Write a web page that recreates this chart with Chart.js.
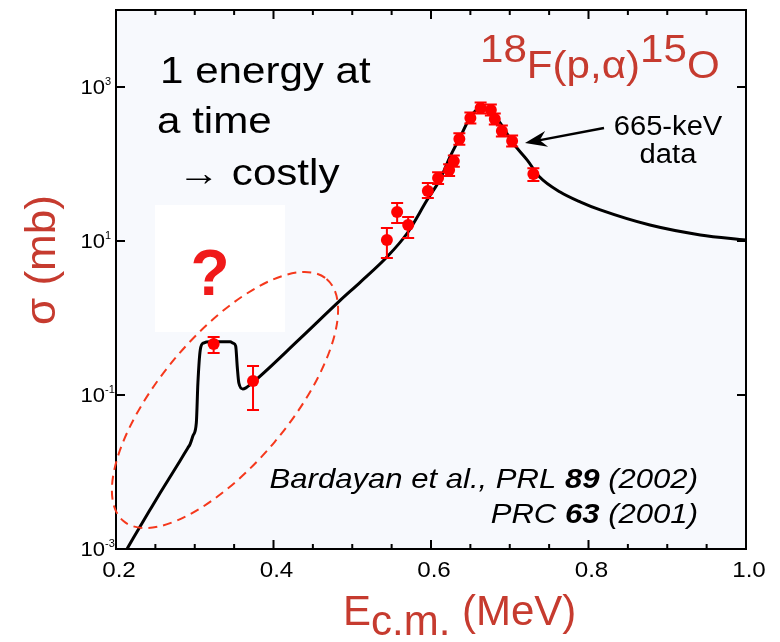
<!DOCTYPE html>
<html>
<head>
<meta charset="utf-8">
<script src="https://cdn.jsdelivr.net/npm/chart.js@4.4.1/dist/chart.umd.min.js"></script>
<style>
  html, body { margin: 0; padding: 0; background: #fff; }
  #wrap { width: 780px; height: 642px; }
</style>
</head>
<body>
<div id="wrap"><canvas id="c" width="780" height="642"></canvas></div>
<script>
// theory curve (E in MeV, sigma in mb)
const curveE = [0.214, 0.222, 0.243, 0.256, 0.281, 0.291, 0.294, 0.298, 0.302, 0.304, 0.307, 0.311, 0.320,
  0.345, 0.349, 0.352, 0.354, 0.356, 0.361, 0.365, 0.370, 0.434, 0.484, 0.510, 0.544, 0.570,
  0.595, 0.611, 0.624, 0.637, 0.650, 0.662, 0.675, 0.688, 0.704, 0.722, 0.738, 0.764, 0.790, 0.815,
  0.878, 0.942, 1.0];
const curveSigma = [0.0010, 0.00139, 0.0032, 0.00533, 0.0138, 0.0204, 0.0229, 0.030, 0.0433, 0.143, 0.384, 0.473, 0.49,
  0.49, 0.47, 0.43, 0.231, 0.143, 0.120, 0.124, 0.135, 0.544, 1.67, 2.91, 6.19, 12.7,
  34.0, 61.9, 123, 224, 407, 530, 490, 340, 188, 113, 67.8, 43.3, 32.0, 25.3,
  16.1, 12.0, 10.3];

// measured points with error bar ends
const dataE = [0.324, 0.374, 0.544, 0.557, 0.571, 0.596, 0.609, 0.623, 0.629, 0.636, 0.650, 0.663, 0.676, 0.681, 0.690, 0.703, 0.730];
const dataSigma = [0.459, 0.152, 10.3, 23.8, 16.1, 44.6, 65.7, 83.6, 109, 211, 395, 533, 502, 384, 268, 199, 74.1];
const errLow = [0.351, 0.0638, 6.0, 17.1, 10.9, 36.1, 55, 70, 92, 178, 335, 452, 425, 325, 227, 169, 60];
const errHigh = [0.566, 0.238, 14.8, 31.2, 20.5, 56.6, 78, 99, 129, 250, 466, 628, 592, 453, 316, 235, 88];

// axis ticks
const xTickVals = [0.2, 0.4, 0.6, 0.8, 1.0];
const xTickLabels = ['0.2', '0.4', '0.6', '0.8', '1.0'];
const xMinorVals = [0.25, 0.3, 0.35, 0.45, 0.5, 0.55, 0.65, 0.7, 0.75, 0.85, 0.9, 0.95];
const yTickVals = [1e-3, 1e-1, 1e1, 1e3];
const yTickExps = ['-3', '-1', '1', '3'];

const RED_TXT = '#c63b2f';
const FONT = '"Liberation Sans", Arial, sans-serif';

function drawRuns(ctx, runs, x, y, align, sx) {
  let w = 0;
  runs.forEach(r => { ctx.font = r.font; r.w = ctx.measureText(r.t).width; w += r.w; });
  w *= sx;
  let start = align === 'right' ? x - w : align === 'center' ? x - w / 2 : x;
  ctx.save();
  ctx.translate(start, y);
  ctx.scale(sx, 1);
  ctx.textAlign = 'left';
  ctx.textBaseline = 'alphabetic';
  let cx = 0;
  runs.forEach(r => {
    ctx.font = r.font;
    ctx.fillStyle = r.color || ctx.fillStyle;
    ctx.fillText(r.t, cx, r.dy || 0);
    cx += r.w;
  });
  ctx.restore();
}

const decor = {
  id: 'decor',
  beforeDraw(chart) {
    const ctx = chart.ctx, a = chart.chartArea;
    ctx.save();
    ctx.fillStyle = '#fff';
    ctx.fillRect(0, 0, chart.width, chart.height);
    ctx.fillStyle = '#f7f9fd';
    ctx.fillRect(a.left, a.top, a.right - a.left, a.bottom - a.top);
    // white patch behind the question mark
    ctx.fillStyle = '#ffffff';
    ctx.fillRect(155, 205, 130, 127);
    ctx.restore();
  },
  afterDatasetsDraw(chart) {
    // error bars
    const ctx = chart.ctx, xs = chart.scales.x, ys = chart.scales.y;
    ctx.save();
    ctx.strokeStyle = '#f00';
    ctx.lineWidth = 2;
    dataE.forEach((e, i) => {
      const px = xs.getPixelForValue(e);
      const y1 = ys.getPixelForValue(errLow[i]);
      const y2 = ys.getPixelForValue(errHigh[i]);
      ctx.beginPath();
      ctx.moveTo(px, y1); ctx.lineTo(px, y2);
      ctx.moveTo(px - 6, y1); ctx.lineTo(px + 6, y1);
      ctx.moveTo(px - 6, y2); ctx.lineTo(px + 6, y2);
      ctx.stroke();
    });
    ctx.restore();
  },
  afterDraw(chart) {
    const ctx = chart.ctx, a = chart.chartArea, xs = chart.scales.x, ys = chart.scales.y;
    ctx.save();
    // frame
    ctx.strokeStyle = '#000';
    ctx.lineWidth = 2;
    ctx.strokeRect(a.left, a.top, a.right - a.left, a.bottom - a.top);
    // ticks, pointing in
    ctx.beginPath();
    xTickVals.concat(xMinorVals).forEach(v => {
      const px = xs.getPixelForValue(v);
      const len = xTickVals.includes(v) ? 9 : 5;
      ctx.moveTo(px, a.bottom); ctx.lineTo(px, a.bottom - len);
      ctx.moveTo(px, a.top); ctx.lineTo(px, a.top + len);
    });
    yTickVals.forEach(v => {
      const py = ys.getPixelForValue(v);
      ctx.moveTo(a.left, py); ctx.lineTo(a.left + 9, py);
      ctx.moveTo(a.right, py); ctx.lineTo(a.right - 9, py);
    });
    ctx.stroke();

    // tick labels
    ctx.fillStyle = '#000';
    xTickVals.forEach((v, i) => {
      drawRuns(ctx, [{ t: xTickLabels[i], font: '22px ' + FONT }], xs.getPixelForValue(v) + 3, a.bottom + 28, 'center', 1.1);
    });
    yTickVals.forEach((v, i) => {
      const py = ys.getPixelForValue(v);
      drawRuns(ctx, [{ t: '10', font: '21px ' + FONT }], a.left - 11, py + 7, 'right', 1.05);
      drawRuns(ctx, [{ t: yTickExps[i], font: '11px ' + FONT }], a.left - 11, py - 2, 'left', 1.0);
    });

    // axis titles
    ctx.fillStyle = RED_TXT;
    drawRuns(ctx, [
      { t: 'E', font: '42px ' + FONT },
      { t: 'c.m.', font: '42px ' + FONT, dy: 10 },
      { t: ' (MeV)', font: '42px ' + FONT }
    ], 343, 625, 'left', 1.0);
    ctx.save();
    ctx.translate(55, 260);
    ctx.rotate(-Math.PI / 2);
    drawRuns(ctx, [{ t: 'σ (mb)', font: '42px ' + FONT }], 0, 0, 'center', 1.05);
    ctx.restore();

    // reaction label
    drawRuns(ctx, [
      { t: '18', font: '39px ' + FONT, dy: -16 },
      { t: 'F(p,α)', font: '39px ' + FONT },
      { t: '15', font: '39px ' + FONT, dy: -16 },
      { t: 'O', font: '39px ' + FONT }
    ], 480, 78, 'left', 1.08);

    // left notes
    ctx.fillStyle = '#000';
    drawRuns(ctx, [{ t: '1 energy at', font: '36px ' + FONT }], 160, 83, 'left', 1.17);
    drawRuns(ctx, [{ t: 'a time', font: '36px ' + FONT }], 157, 133, 'left', 1.17);
    drawRuns(ctx, [{ t: '→ costly', font: '36px ' + FONT }], 178, 185, 'left', 1.17);

    // question mark
    ctx.fillStyle = '#f01a1a';
    drawRuns(ctx, [{ t: '?', font: 'bold 64px ' + FONT }], 210, 295, 'center', 1.0);

    // reference
    ctx.fillStyle = '#000';
    drawRuns(ctx, [
      { t: 'Bardayan et al., PRL ', font: 'italic 28px ' + FONT },
      { t: '89', font: 'italic bold 28px ' + FONT },
      { t: ' (2002)', font: 'italic 28px ' + FONT }
    ], 698, 488, 'right', 1.11);
    drawRuns(ctx, [
      { t: 'PRC ', font: 'italic 28px ' + FONT },
      { t: '63', font: 'italic bold 28px ' + FONT },
      { t: ' (2001)', font: 'italic 28px ' + FONT }
    ], 698, 523, 'right', 1.11);

    // 665-keV note and arrow
    drawRuns(ctx, [{ t: '665-keV', font: '27px ' + FONT }], 668, 135, 'center', 1.08);
    drawRuns(ctx, [{ t: 'data', font: '27px ' + FONT }], 668, 163, 'center', 1.08);
    const ax0 = 604, ay0 = 128, ax1 = 525, ay1 = 143;
    const ang = Math.atan2(ay1 - ay0, ax1 - ax0);
    ctx.strokeStyle = '#000';
    ctx.lineWidth = 2.5;
    ctx.beginPath();
    ctx.moveTo(ax0, ay0);
    ctx.lineTo(ax1 - 14 * Math.cos(ang), ay1 - 14 * Math.sin(ang));
    ctx.stroke();
    ctx.beginPath();
    ctx.moveTo(ax1, ay1);
    ctx.lineTo(ax1 - 22 * Math.cos(ang) + 8 * Math.sin(ang), ay1 - 22 * Math.sin(ang) - 8 * Math.cos(ang));
    ctx.lineTo(ax1 - 15 * Math.cos(ang), ay1 - 15 * Math.sin(ang));
    ctx.lineTo(ax1 - 22 * Math.cos(ang) - 8 * Math.sin(ang), ay1 - 22 * Math.sin(ang) + 8 * Math.cos(ang));
    ctx.closePath();
    ctx.fillStyle = '#000';
    ctx.fill();

    // dashed ellipse
    ctx.strokeStyle = '#f5381c';
    ctx.lineWidth = 2;
    ctx.setLineDash([9, 6]);
    ctx.beginPath();
    ctx.ellipse(225, 400, 158, 65, -50 * Math.PI / 180, 0, Math.PI * 2);
    ctx.stroke();
    ctx.restore();
  }
};

new Chart(document.getElementById('c'), {
  type: 'scatter',
  data: {
    datasets: [
      {
        label: 'data',
        data: dataE.map((e, i) => ({ x: e, y: dataSigma[i] })),
        backgroundColor: '#f00',
        borderWidth: 0,
        pointRadius: 6,
        order: 0
      },
      {
        label: 'theory',
        type: 'line',
        data: curveE.map((e, i) => ({ x: e, y: curveSigma[i] })),
        borderColor: '#000',
        borderWidth: 3,
        pointRadius: 0,
        cubicInterpolationMode: 'monotone',
        fill: false,
        order: 1
      }
    ]
  },
  options: {
    responsive: false,
    animation: false,
    layout: { padding: { left: 116, right: 34, top: 10, bottom: 93 } },
    plugins: { legend: { display: false }, tooltip: { enabled: false } },
    scales: {
      x: { type: 'linear', min: 0.2, max: 1.0, display: false },
      y: { type: 'logarithmic', min: 1e-3, max: 1e4, display: false }
    }
  },
  plugins: [decor]
});
</script>
</body>
</html>
